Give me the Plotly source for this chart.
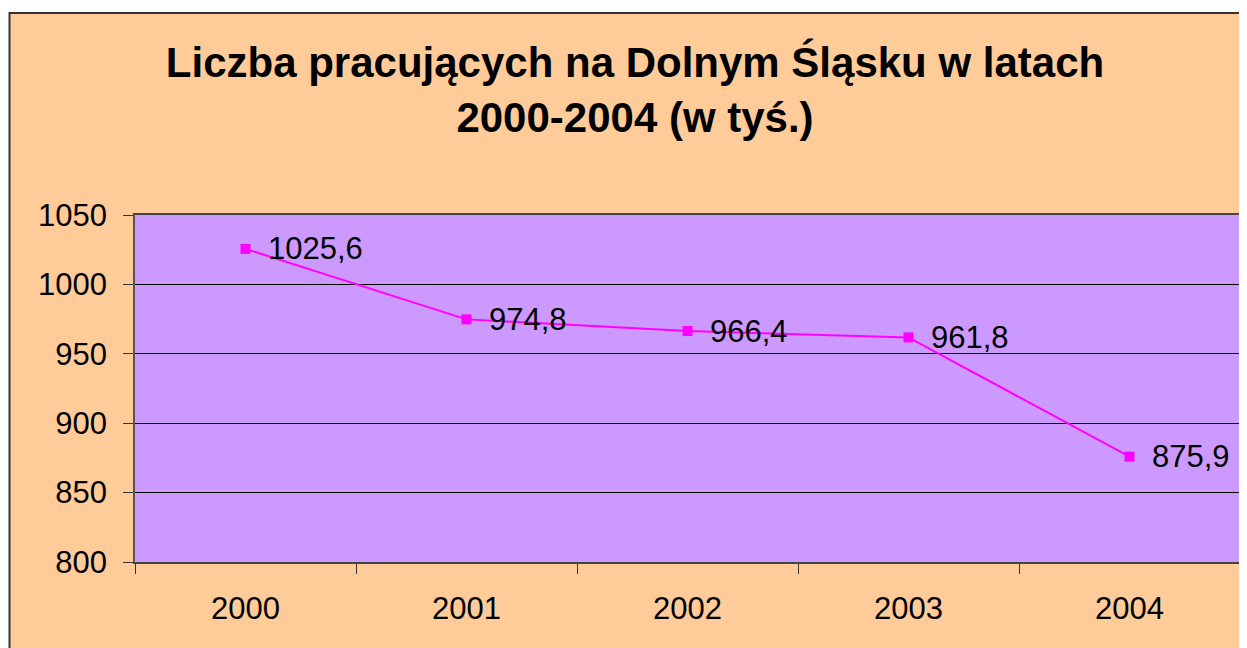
import plotly.graph_objects as go

years = ["2000", "2001", "2002", "2003", "2004"]
values = [1025.6, 974.8, 966.4, 961.8, 875.9]
labels = ["1025,6", "974,8", "966,4", "961,8", "875,9"]
y_ticks = [800, 850, 900, 950, 1000, 1050]

# figure sits at (8,8) in the page because of default body margin
W, H = 1239, 640
PL, PR, PT, PB = 127, 1232, 207, 554

fig = go.Figure()
fig.add_trace(go.Scatter(
    x=years, y=values, mode="lines+markers",
    line=dict(color="#FF00FF", width=2),
    marker=dict(symbol="square", size=10, color="#FF00FF"),
    cliponaxis=False, hoverinfo="skip",
))
for i, (v, lab) in enumerate(zip(values, labels)):
    fig.add_annotation(x=i, y=v, text=lab, showarrow=False,
                       xref="x", yref="y",
                       xanchor="left", yanchor="middle", xshift=20,
                       font=dict(family="Liberation Sans, Arial", size=31, color="black"))

fig.add_shape(type="rect", xref="paper", yref="paper",
              x0=1.5 / W, x1=1.05, y0=-0.05, y1=1 - 5 / H,
              fillcolor="#FFCC99", line=dict(color="#333333", width=2), layer="below")
fig.add_shape(type="rect", xref="x domain", yref="y domain",
              x0=0, x1=1, y0=0, y1=1,
              fillcolor="#CC99FF", line=dict(width=0), layer="below")

fig.update_layout(
    width=W, height=H, autosize=False,
    margin=dict(l=0, r=0, t=0, b=0, pad=0),
    paper_bgcolor="white", plot_bgcolor="#CC99FF",
    showlegend=False,
    font=dict(family="Liberation Sans, Arial", color="black"),
    title=dict(text="<b>Liczba pracujących na Dolnym Śląsku w latach<br>2000-2004 (w tyś.)</b>",
               x=627 / W, xanchor="center", y=1 - 69 / H, yanchor="middle",
               font=dict(size=42, color="black")),
    xaxis=dict(domain=[PL / W, PR / W], type="category", tickson="boundaries",
               range=[-0.5, 4.5], automargin=False,
               ticks="outside", ticklen=10, tickcolor="#333333", ticklabelstandoff=18,
               showline=True, linecolor="#444444", linewidth=2, mirror=True,
               showgrid=False, tickfont=dict(size=31), zeroline=False),
    yaxis=dict(domain=[1 - PB / H, 1 - PT / H], range=[800, 1050], automargin=False,
               tickvals=y_ticks, ticks="outside", ticklen=10, tickcolor="#333333",
               ticklabelstandoff=10,
               showline=True, linecolor="#555555", linewidth=1.5, mirror=True,
               showgrid=True, gridcolor="black", gridwidth=1,
               tickfont=dict(size=31), zeroline=False),
)

fig.write_html("out.html")
